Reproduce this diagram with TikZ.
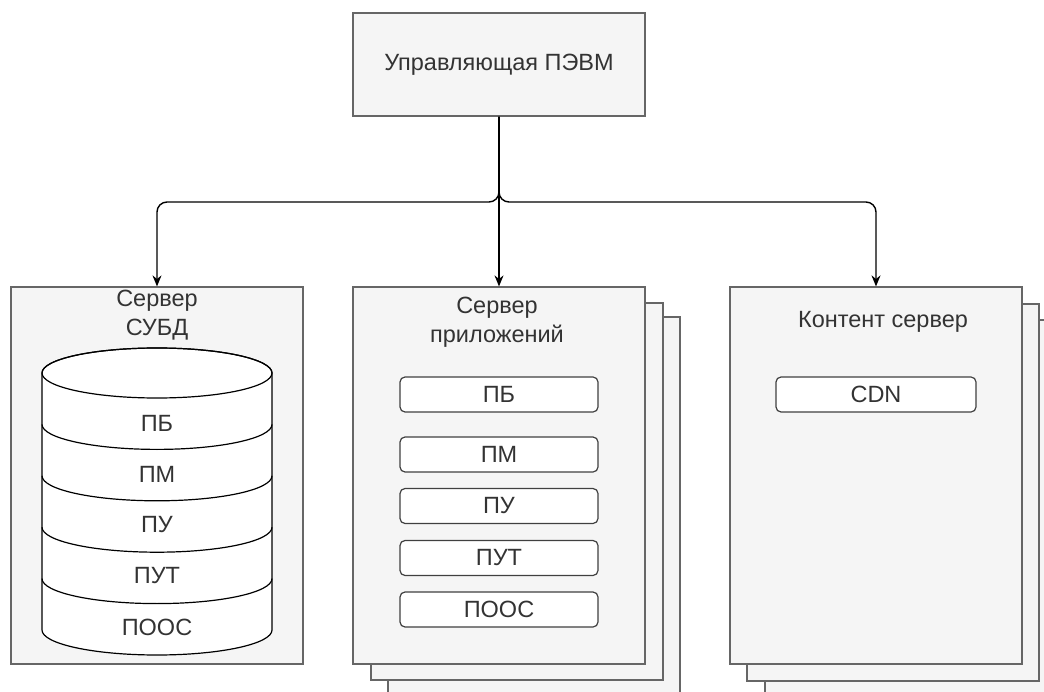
\documentclass[tikz,border=0pt]{standalone}
\usepackage{fontspec}
\setmainfont{Liberation Sans}
\usepackage{xcolor}
\usetikzlibrary{arrows.meta}

\definecolor{pagegray}{HTML}{666666}
\definecolor{pagefill}{HTML}{F5F5F5}
\definecolor{textgray}{HTML}{333333}
\definecolor{modgray}{HTML}{404040}

\newcommand{\diagfont}{\fontsize{23.5}{29}\selectfont}

\tikzset{
    page/.style={draw=pagegray, fill=pagefill, line width=1.2pt, inner sep=0pt,
        minimum width=292pt, minimum height=377pt},
    ctrlbox/.style={page, minimum height=103pt},
    module/.style={draw=modgray, fill=white, line width=1.2pt, rounded corners=5pt,
        inner sep=0pt, minimum width=198pt, minimum height=35pt, text=textgray, font=\diagfont},
    pagetitle/.style={text=textgray, align=center, font=\diagfont},
    link/.style={-{Stealth[length=11pt, width=9pt]}, line width=1.4pt, rounded corners=10pt},
}

\begin{document}
\begin{tikzpicture}[x=1pt, y=-1pt]
    \useasboundingbox (0, 0) rectangle (1044, 692);
    \clip (0, 0) rectangle (1044, 692);

    \node (ctrl) at (499, 64.5) [ctrlbox, pagetitle] {Управляющая ПЭВМ};

    %Server pages, back sheets first.
    \node (dbms) at (157, 475.5) [page] {};

    \node (app3) at (534, 505.5) [page] {};
    \node (app2) at (517, 491.5) [page] {};
    \node (app) at (499, 475.5) [page] {};

    \node (cdn3) at (911, 508.5) [page] {};
    \node (cdn2) at (893, 492.5) [page] {};
    \node (cdn) at (876, 475.5) [page] {};

    \node (dbmstitle) at (157, 315) [pagetitle] {Сервер\\СУБД};
    \node (apptitle) at (497, 322.5) [pagetitle] {Сервер\\приложений};
    \node (cdntitle) at (883, 322) [pagetitle] {Контент сервер};

    %Database stack.
    \draw[line width=1.2pt, fill=white] (42, 373) -- (42, 630)
        arc[start angle=180, end angle=360, x radius=115pt, y radius=25pt]
        -- (272, 373)
        arc[start angle=0, end angle=180, x radius=115pt, y radius=25pt] -- cycle;
    \draw[line width=1.2pt] (157, 373) ellipse[x radius=115pt, y radius=25pt];
    \draw[line width=1.2pt] (42, 424.4) arc[start angle=180, end angle=360, x radius=115pt, y radius=25pt];
    \draw[line width=1.2pt] (42, 475.8) arc[start angle=180, end angle=360, x radius=115pt, y radius=25pt];
    \draw[line width=1.2pt] (42, 527.2) arc[start angle=180, end angle=360, x radius=115pt, y radius=25pt];
    \draw[line width=1.2pt] (42, 578.6) arc[start angle=180, end angle=360, x radius=115pt, y radius=25pt];

    \node (dbpb) at (157, 423) [pagetitle] {ПБ};
    \node (dbpm) at (157, 474) [pagetitle] {ПМ};
    \node (dbpu) at (157, 525) [pagetitle] {ПУ};
    \node (dbput) at (157, 576) [pagetitle] {ПУТ};
    \node (dbpoos) at (157, 627) [pagetitle] {ПООС};

    %Application modules.
    \node (pb) at (499, 394.5) [module] {ПБ};
    \node (pm) at (499, 454.5) [module] {ПМ};
    \node (pu) at (499, 506) [module] {ПУ};
    \node (put) at (499, 558) [module] {ПУТ};
    \node (poos) at (499, 609.5) [module] {ПООС};

    \node (cdnmod) at (876, 394.5) [module, minimum width=200pt] {CDN};

    %Links from the control computer.
    \coordinate (bus) at (499, 202);
    \draw[link] (ctrl.south) -- (bus) -| (dbms.north);
    \draw[link] (ctrl.south) -- (app.north);
    \draw[link] (ctrl.south) -- (bus) -| (cdn.north);
\end{tikzpicture}
\end{document}
